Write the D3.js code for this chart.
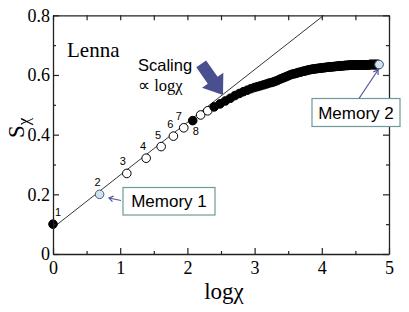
<!DOCTYPE html>
<html><head><meta charset="utf-8">
<script src="https://cdn.jsdelivr.net/npm/d3@7"></script>
<style>
body{margin:0;background:#fff;}
svg{display:block;}
</style></head>
<body><svg id="c" width="409" height="312"></svg>
<script>
// bond dimension chi (1..128) and entropy S_chi
const chi = d3.range(1, 129);
const S = [
0.100,0.200,0.270,0.321,0.360,0.395,0.423,0.447,0.466,0.480,
0.493,0.503,0.513,0.522,0.531,0.538,0.544,0.549,0.554,0.558,
0.561,0.564,0.567,0.570,0.573,0.575,0.578,0.581,0.585,0.588,
0.591,0.594,0.597,0.600,0.602,0.604,0.605,0.607,0.609,0.610,
0.612,0.613,0.614,0.616,0.617,0.618,0.619,0.620,0.620,0.621,
0.622,0.622,0.623,0.623,0.624,0.624,0.625,0.625,0.626,0.626,
0.627,0.627,0.627,0.628,0.628,0.628,0.629,0.629,0.629,0.630,
0.630,0.630,0.631,0.631,0.631,0.631,0.632,0.632,0.632,0.632,
0.632,0.633,0.633,0.633,0.633,0.633,0.633,0.633,0.633,0.633,
0.633,0.633,0.633,0.633,0.633,0.634,0.634,0.634,0.634,0.634,
0.634,0.634,0.634,0.634,0.634,0.634,0.634,0.634,0.634,0.634,
0.635,0.635,0.635,0.635,0.635,0.635,0.635,0.635,0.635,0.635,
0.635,0.635,0.635,0.635,0.635,0.635,0.635,0.635];
// point styles: 'f' filled, 'o' open, 'm' memory (light blue)
const style = chi.map(c => (c===1||c===8||c>=11) ? 'f' : 'o');
style[1] = 'm'; style[127] = 'm';
const numbered = [1,2,3,4,5,6,7,8];
// scaling line S = a + b log chi (endpoints)
const lineX = [0, 4.03];
const lineY = [0.088, 0.8];
const xTicks = [0,1,2,3,4,5];
const xMinor = [0.5,1.5,2.5,3.5,4.5];
const yTicks = [0,0.2,0.4,0.6,0.8];
const yMinor = [0.1,0.3,0.5,0.7];
const memLabels = ["Memory 1","Memory 2"];

const svg = d3.select("#c");
const L=53, R=389, T=15.3, B=254;
const x = d3.scaleLinear().domain([0,5]).range([L,R]);
const y = d3.scaleLinear().domain([0,0.8]).range([B,T]);
const serif = "'Liberation Serif','Times New Roman',serif";
const sans = "'Liberation Sans',Arial,sans-serif";

// scaling line (clipped to the plot)
svg.append("defs").append("clipPath").attr("id","clip")
  .append("rect").attr("x",L).attr("y",T).attr("width",R-L).attr("height",B-T);
svg.append("path").attr("clip-path","url(#clip)")
  .attr("d", d3.line()(lineX.map((v,i)=>[x(v), y(lineY[i])])))
  .attr("fill","none").attr("stroke","#000").attr("stroke-width",0.8);

// points
const pts = chi.map((c,i)=>({c, lx:Math.log(c), s:S[i], st:style[i]}));
const order = pts.filter(p=>p.st!=='m').concat(pts.filter(p=>p.st==='m'));
svg.append("g").selectAll("circle").data(order).join("circle")
  .attr("cx",d=>x(d.lx)).attr("cy",d=>y(d.s)).attr("r",4.3)
  .attr("fill",d=>d.st==='f'?"#000":d.st==='o'?"#fff":"#cfe4ee")
  .attr("stroke",d=>d.st==='m'?"#4a5a7a":"#000").attr("stroke-width",1);

// numbers
const numOff = {1:[5,-8],2:[-2,-8],3:[-4,-8],4:[-3,-8],5:[-3,-8],6:[-3,-8],7:[-5,-8],8:[3,14]};
svg.append("g").selectAll("text").data(numbered).join("text")
  .attr("x",d=>x(Math.log(d))+numOff[d][0]).attr("y",d=>y(S[d-1])+numOff[d][1])
  .attr("text-anchor","middle").attr("font-family",sans).attr("font-size",11)
  .text(d=>d);

// axes
function styleAxis(g){ g.select(".domain").attr("stroke","#222").attr("stroke-width",1.3);
  g.selectAll(".tick line").attr("stroke","#222").attr("stroke-width",1.2); }
const gb = svg.append("g").attr("transform",`translate(0,${B})`)
  .call(d3.axisBottom(x).tickValues(xTicks).tickSize(-6).tickSizeOuter(0).tickPadding(7).tickFormat(d3.format("d")));
gb.call(styleAxis);
gb.selectAll("text").attr("font-family",serif).attr("font-size",18).attr("fill","#000");
svg.append("g").attr("transform",`translate(0,${B})`)
  .call(d3.axisBottom(x).tickValues(xMinor).tickSize(-3).tickFormat("")).call(styleAxis)
  .select(".domain").remove();
const gt = svg.append("g").attr("transform",`translate(0,${T})`)
  .call(d3.axisTop(x).tickValues(xTicks.concat(xMinor)).tickSize(-5).tickSizeOuter(0).tickFormat(""));
gt.call(styleAxis);
const gl = svg.append("g").attr("transform",`translate(${L},0)`)
  .call(d3.axisLeft(y).tickValues(yTicks).tickSize(-6).tickSizeOuter(0).tickPadding(3).tickFormat(d=>d===0?"0":d3.format(".1f")(d)));
gl.call(styleAxis);
gl.selectAll("text").attr("font-family",serif).attr("font-size",18).attr("fill","#000");
svg.append("g").attr("transform",`translate(${L},0)`)
  .call(d3.axisLeft(y).tickValues(yMinor).tickSize(-3).tickFormat("")).call(styleAxis)
  .select(".domain").remove();
const gr = svg.append("g").attr("transform",`translate(${R},0)`)
  .call(d3.axisRight(y).tickValues(yTicks).tickSize(-6).tickSizeOuter(0).tickFormat(""));
gr.call(styleAxis);
svg.append("g").attr("transform",`translate(${R},0)`)
  .call(d3.axisRight(y).tickValues(yMinor).tickSize(-3).tickFormat("")).call(styleAxis)
  .select(".domain").remove();

// axis titles
svg.append("text").attr("x",224).attr("y",299).attr("text-anchor","middle")
  .attr("font-family",serif).attr("font-size",23).text("logχ");
const yt = svg.append("text").attr("transform","translate(24,138) rotate(-90)")
  .attr("text-anchor","start").attr("font-family",serif).attr("font-size",23);
yt.append("tspan").text("S");
yt.append("tspan").attr("font-size",17).attr("dy",5).text("χ");

// Lenna
svg.append("text").attr("x",67).attr("y",57).attr("font-family",serif).attr("font-size",21).text("Lenna");

// scaling annotation
svg.append("text").attr("x",138).attr("y",71).attr("font-family",sans).attr("font-size",16.5).text("Scaling");
svg.append("text").attr("x",138).attr("y",91).attr("font-family",serif).attr("font-size",16.5).text("∝ logχ");
// big arrow
(function(){
  const tip=[223,95], a=55*Math.PI/180, len=38, hl=18, hw=13, sw=6;
  const d=[Math.cos(a),Math.sin(a)], p=[-Math.sin(a),Math.cos(a)];
  const base=[tip[0]-hl*d[0], tip[1]-hl*d[1]], tail=[tip[0]-len*d[0], tip[1]-len*d[1]];
  const P=(c,k)=>[c[0]+k*p[0], c[1]+k*p[1]];
  const poly=[P(tail,-sw),P(base,-sw),P(base,-hw),tip,P(base,hw),P(base,sw),P(tail,sw)];
  svg.append("path").attr("d","M"+poly.map(q=>q.join(",")).join("L")+"Z").attr("fill","#4a4f8f");
})();

// memory boxes
const boxes=[{x:123,y:187.5,w:92,h:27.5,t:memLabels[0]},{x:312,y:98.5,w:88,h:28,t:memLabels[1]}];
boxes.forEach(b=>{
  svg.append("rect").attr("x",b.x).attr("y",b.y).attr("width",b.w).attr("height",b.h)
    .attr("fill","#fff").attr("stroke","#6f9898").attr("stroke-width",1.2);
  svg.append("text").attr("x",b.x+b.w/2).attr("y",b.y+b.h/2+6).attr("text-anchor","middle")
    .attr("font-family",sans).attr("font-size",17).text(b.t);
});
// small arrows
const ac="#50559f";
function arrow(x1,y1,x2,y2){
  svg.append("line").attr("x1",x1).attr("y1",y1).attr("x2",x2).attr("y2",y2).attr("stroke",ac).attr("stroke-width",1.2);
  const ang=Math.atan2(y2-y1,x2-x1), h=5;
  const w1=[x2-h*Math.cos(ang-0.6), y2-h*Math.sin(ang-0.6)], w2=[x2-h*Math.cos(ang+0.6), y2-h*Math.sin(ang+0.6)];
  svg.append("path").attr("d",`M${w1}L${x2},${y2}L${w2}`).attr("fill","none").attr("stroke",ac).attr("stroke-width",1.2);
}
arrow(121,200.5,109,198);
arrow(359,98.5,378,70);
</script></body></html>
